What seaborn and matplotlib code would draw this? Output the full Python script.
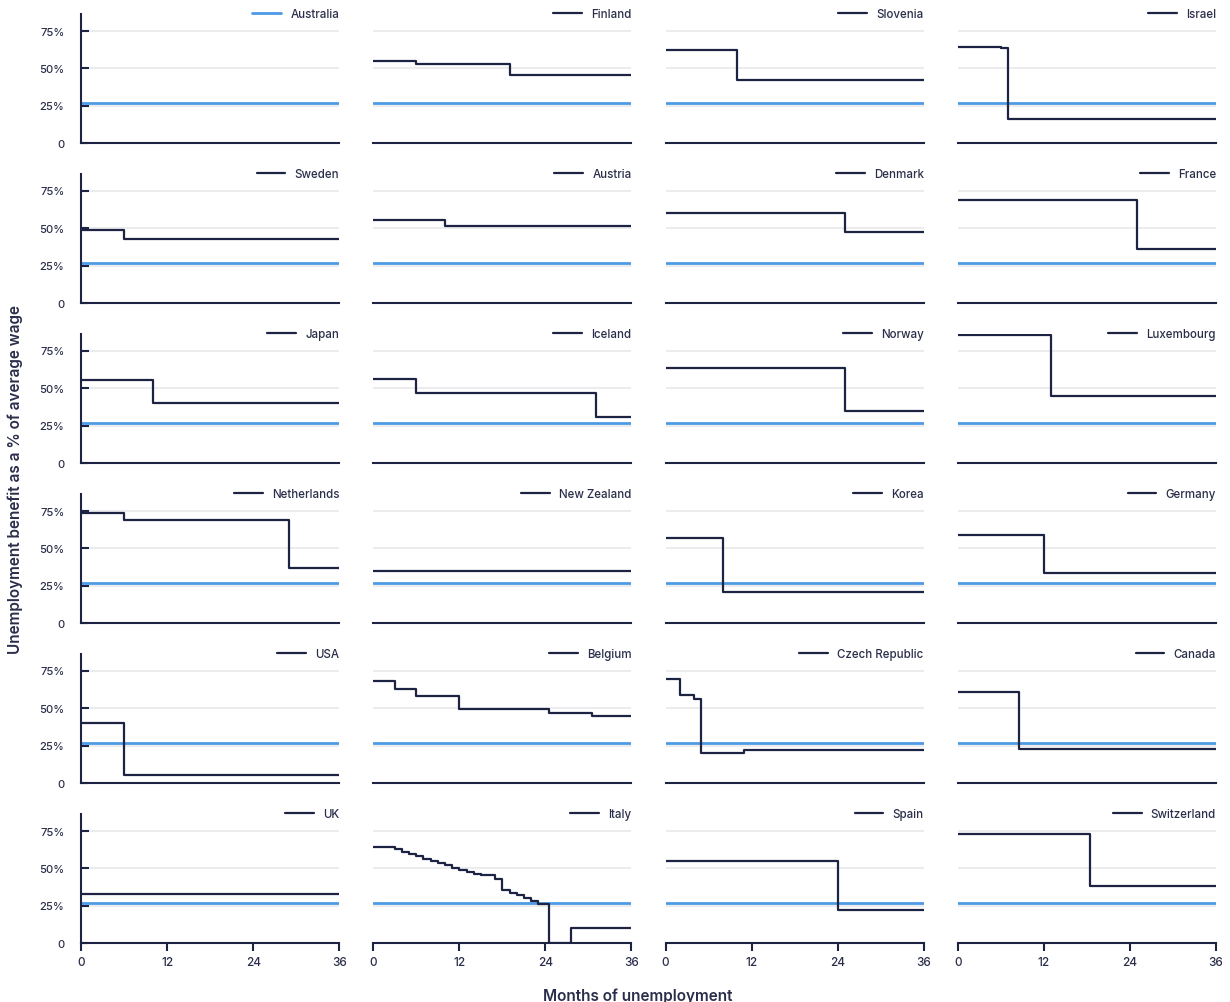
import matplotlib
matplotlib.use("Agg")
import matplotlib.pyplot as plt
import seaborn as sns
import pandas as pd

# ---------------- data (months of unemployment -> benefit % of average wage) ----------------
countries = ["Australia", "Finland", "Slovenia", "Israel",
             "Sweden", "Austria", "Denmark", "France",
             "Japan", "Iceland", "Norway", "Luxembourg",
             "Netherlands", "New Zealand", "Korea", "Germany",
             "USA", "Belgium", "Czech Republic", "Canada",
             "UK", "Italy", "Spain", "Switzerland"]

australia_months = [0, 36]
australia_values = [26.8, 26.8]

finland_months = [0, 6, 19, 36]
finland_values = [54.4, 52.7, 45.1, 45.1]
slovenia_months = [0, 10, 36]
slovenia_values = [61.7, 41.8, 41.8]
israel_months = [0, 6, 7, 36]
israel_values = [64.2, 63.1, 16.3, 16.3]

sweden_months = [0, 6, 36]
sweden_values = [49.0, 42.4, 42.4]
austria_months = [0, 10, 36]
austria_values = [55.5, 51.5, 51.5]
denmark_months = [0, 25, 36]
denmark_values = [59.7, 47.5, 47.5]
france_months = [0, 25, 36]
france_values = [68.6, 35.7, 35.7]

japan_months = [0, 10, 36]
japan_values = [55.5, 39.9, 39.9]
iceland_months = [0, 6, 31, 36]
iceland_values = [56.1, 46.8, 30.8, 30.8]
norway_months = [0, 25, 36]
norway_values = [63.2, 34.8, 34.8]
luxembourg_months = [0, 13, 36]
luxembourg_values = [85.6, 44.8, 44.8]

netherlands_months = [0, 6, 29, 36]
netherlands_values = [73.2, 69.0, 36.6, 36.6]
new_zealand_months = [0, 36]
new_zealand_values = [34.6, 34.6]
korea_months = [0, 8, 36]
korea_values = [56.8, 20.6, 20.6]
germany_months = [0, 12, 36]
germany_values = [58.6, 33.3, 33.3]

usa_months = [0, 6, 36]
usa_values = [39.8, 5.4, 5.4]
belgium_months = [0, 3, 6, 12, 24.5, 30.5, 36]
belgium_values = [67.7, 62.8, 58.0, 49.1, 46.9, 44.5, 44.5]
czech_months = [0, 2, 4, 5, 11, 36]
czech_values = [69.2, 58.6, 56.0, 19.8, 21.7, 21.7]
canada_months = [0, 8.5, 36]
canada_values = [60.4, 22.6, 22.6]

uk_months = [0, 36]
uk_values = [33.0, 33.0]
italy_months = [0, 3, 4, 5, 6, 7, 8, 9, 10, 11, 12, 13, 14, 15, 17, 18, 19, 20, 21, 22, 23, 24.5, 27.5, 36]
italy_values = [63.9, 62.6, 60.6, 59.3, 57.7, 56.0, 54.6, 53.1, 51.8, 50.2, 48.7, 47.3, 46.2, 45.1,
                42.9, 35.6, 33.6, 31.9, 30.1, 28.3, 25.7, 0.0, 10.2, 10.2]
spain_months = [0, 24, 36]
spain_values = [54.4, 21.7, 21.7]
switzerland_months = [0, 18.5, 36]
switzerland_values = [73.0, 38.1, 38.1]

series = {
    "Australia": (australia_months, australia_values),
    "Finland": (finland_months, finland_values),
    "Slovenia": (slovenia_months, slovenia_values),
    "Israel": (israel_months, israel_values),
    "Sweden": (sweden_months, sweden_values),
    "Austria": (austria_months, austria_values),
    "Denmark": (denmark_months, denmark_values),
    "France": (france_months, france_values),
    "Japan": (japan_months, japan_values),
    "Iceland": (iceland_months, iceland_values),
    "Norway": (norway_months, norway_values),
    "Luxembourg": (luxembourg_months, luxembourg_values),
    "Netherlands": (netherlands_months, netherlands_values),
    "New Zealand": (new_zealand_months, new_zealand_values),
    "Korea": (korea_months, korea_values),
    "Germany": (germany_months, germany_values),
    "USA": (usa_months, usa_values),
    "Belgium": (belgium_months, belgium_values),
    "Czech Republic": (czech_months, czech_values),
    "Canada": (canada_months, canada_values),
    "UK": (uk_months, uk_values),
    "Italy": (italy_months, italy_values),
    "Spain": (spain_months, spain_values),
    "Switzerland": (switzerland_months, switzerland_values),
}

x_ticks = [0, 12, 24, 36]
x_ticklabels = ["0", "12", "24", "36"]
y_ticks = [0, 25, 50, 75]
y_ticklabels = ["0", "25%", "50%", "75%"]

# ---------------- styling ----------------
NAVY = "#1d2342"
BLUE = "#4d9be4"
GRID = "#ececee"
TEXT = "#2a2e4a"

sns.set_theme(style="white")
plt.rcParams["font.family"] = ["Inter", "Lato", "DejaVu Sans"]

fig, axes = plt.subplots(6, 4, figsize=(12.30, 10.03), dpi=100, sharex=True, sharey=True)
fig.subplots_adjust(left=81 / 1230, right=1216 / 1230, top=1 - 15 / 1003, bottom=1 - 944 / 1003,
                    wspace=34 / 258, hspace=31 / 129)

au_df = pd.DataFrame({"month": australia_months, "value": australia_values})

for i, name in enumerate(countries):
    r, c = divmod(i, 4)
    ax = axes[r, c]
    months, values = series[name]
    df = pd.DataFrame({"month": months, "value": values})

    ax.set_axisbelow(True)
    for yv in [25, 50, 75]:
        ax.axhline(yv, color=GRID, lw=1.5, zorder=0)

    if name == "Australia":
        sns.lineplot(data=df, x="month", y="value", ax=ax, color=BLUE, lw=2.0,
                     drawstyle="steps-post", estimator=None, sort=False, label=name)
    else:
        sns.lineplot(data=au_df, x="month", y="value", ax=ax, color=BLUE, lw=2.0,
                     drawstyle="steps-post", estimator=None, sort=False, legend=False)
        sns.lineplot(data=df, x="month", y="value", ax=ax, color=NAVY, lw=1.6,
                     drawstyle="steps-post", estimator=None, sort=False, label=name)

    ax.set_xlim(0, 36)
    ax.set_ylim(0, 86)
    ax.set_xlabel("")
    ax.set_ylabel("")
    ax.grid(False)

    for s in ["top", "right"]:
        ax.spines[s].set_visible(False)
    ax.spines["bottom"].set_color(NAVY)
    ax.spines["bottom"].set_linewidth(1.5)
    if c == 0:
        ax.spines["left"].set_color(NAVY)
        ax.spines["left"].set_linewidth(1.5)
        ax.set_yticks(y_ticks)
        ax.set_yticklabels(y_ticklabels, fontweight="medium")
        ax.tick_params(axis="y", direction="in", length=6, width=1.5, color=NAVY,
                       labelsize=8, labelcolor=TEXT, pad=12, left=True)
    else:
        ax.spines["left"].set_visible(False)
        ax.tick_params(axis="y", left=False, labelleft=False)

    ax.set_xticks(x_ticks)
    if r == 5:
        ax.set_xticklabels(x_ticklabels, fontweight="medium")
        ax.tick_params(axis="x", direction="out", length=6, width=1.5, color=NAVY,
                       labelsize=8.5, labelcolor=TEXT, pad=3, bottom=True)
    else:
        ax.tick_params(axis="x", bottom=False, labelbottom=False)

    leg = ax.legend(loc="center right", bbox_to_anchor=(1.0, 1.0), frameon=False,
                    borderaxespad=0, borderpad=0, handlelength=2.5, handletextpad=0.8,
                    prop={"size": 8.3, "weight": "medium"})
    for t in leg.get_texts():
        t.set_color(TEXT)

fig.text(0.5185, 1 - 996 / 1003, "Months of unemployment", ha="center", va="center",
         fontsize=11, color=TEXT, fontweight="semibold")
fig.text(15 / 1230, 1 - 480 / 1003, "Unemployment benefit as a % of average wage", ha="center",
         va="center", rotation=90, fontsize=11, color=TEXT, fontweight="semibold")

fig.savefig("out.png", dpi=100)
